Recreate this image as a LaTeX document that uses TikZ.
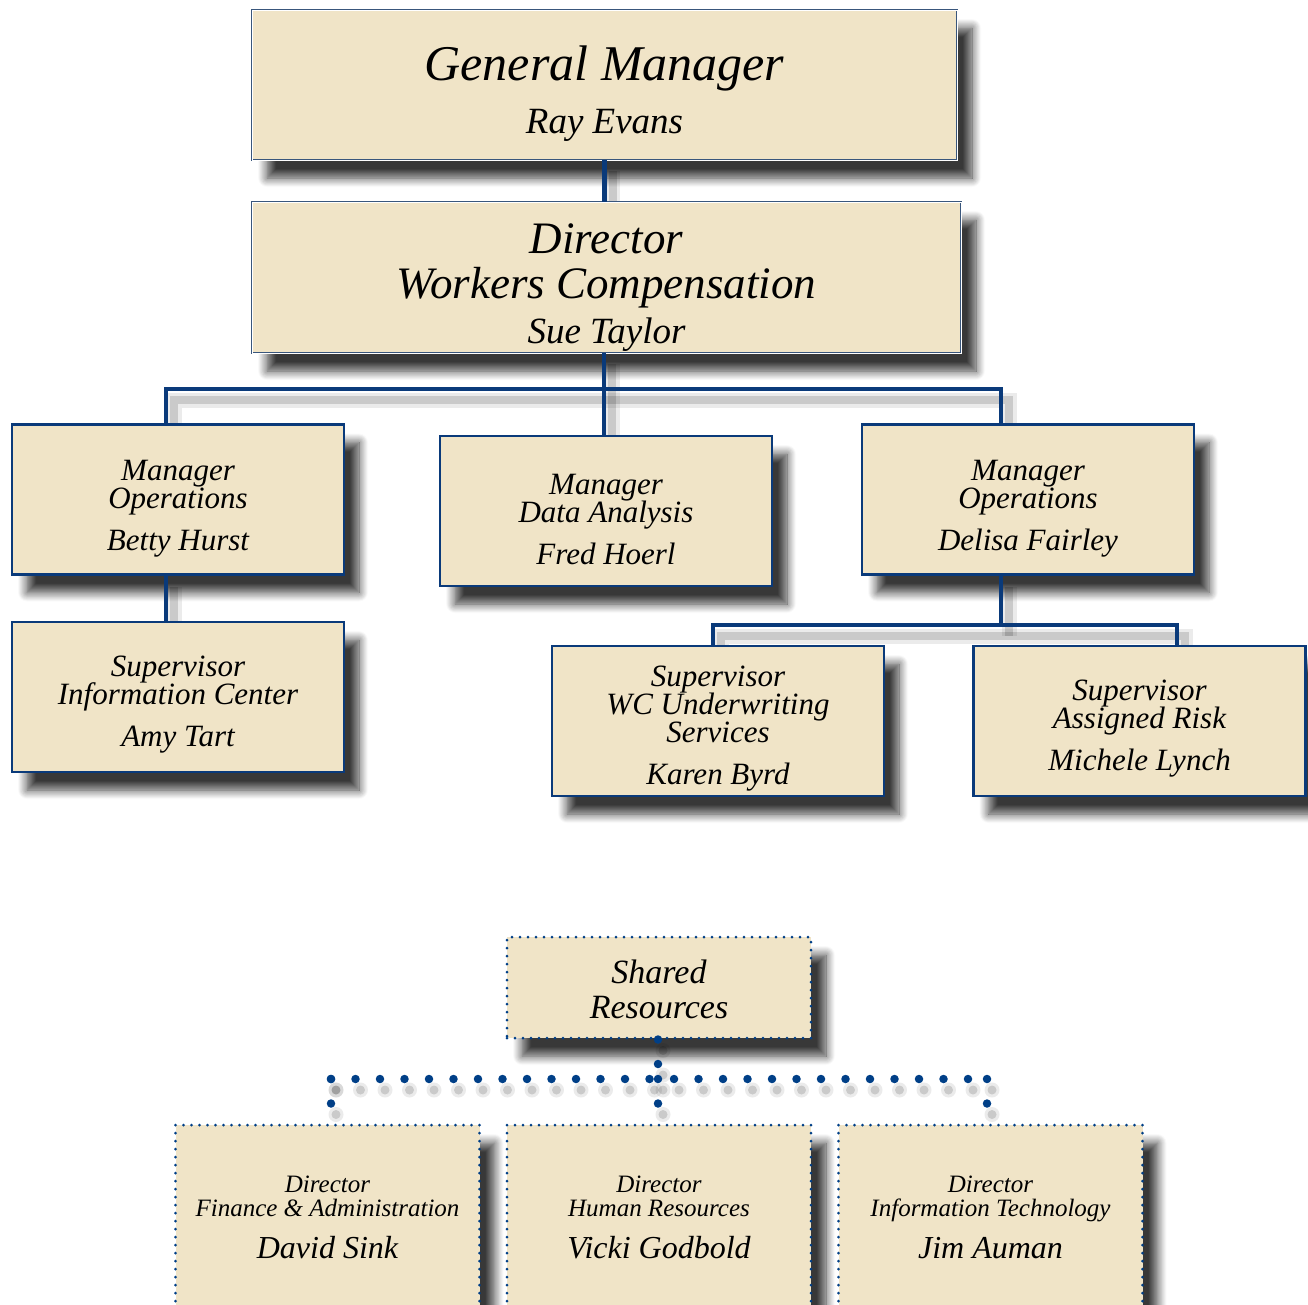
\documentclass[tikz,border=0pt]{standalone}
\usepackage{fontspec}
\setmainfont{Liberation Serif}
\usetikzlibrary{backgrounds}
\usetikzlibrary{shadows.blur}

\definecolor{boxfill}{RGB}{240,228,199}
\definecolor{linknavy}{RGB}{10,58,122}
\definecolor{dotnavy}{RGB}{0,63,135}

\newcommand\titlefont[2]{\itshape\fontsize{#1}{#2}\selectfont\lineskiplimit=-100pt}
\newcommand\lift[1]{\rule{0pt}{#1}}

% a connector: its shade goes under everything, the line over the boxes
\newcommand\link[3]{
  \begin{pgfonlayer}{background}
    \path[#2, opacity=0.08, line width=15pt] #3;
    \path[#2] #3;
  \end{pgfonlayer}
  \path[#1] #3;
}

\tikzset{
  softshadow/.style={blur shadow={shadow xshift=15pt, shadow yshift=-18pt,
      shadow blur radius=9pt, shadow blur steps=10, shadow opacity=78}},
  topbox/.style={draw=linknavy!60!gray, double=white, double distance=0.9pt,
      line width=0.7pt, fill=boxfill, softshadow, align=center, inner sep=0pt},
  unitbox/.style={draw=linknavy, line width=2.6pt, fill=boxfill, softshadow,
      minimum width=332pt, minimum height=150pt, align=center, inner sep=0pt,
      font=\titlefont{31}{28}},
  sharedbox/.style={draw=dotnavy, line width=3pt, line cap=round,
      dash pattern=on 0pt off 8pt, fill=boxfill, softshadow,
      minimum width=304pt, align=center, inner sep=0pt},
  link/.style={draw=linknavy, line width=4.5pt},
  linkshade/.style={draw=black, opacity=0.14, line width=8pt,
      transform canvas={shift={(8pt,-11pt)}}},
  dotlink/.style={draw=dotnavy, line width=8.5pt, line cap=round,
      dash pattern=on 0pt off 24.5pt},
  dotshade/.style={draw=black, opacity=0.14, line width=9pt, line cap=round,
      dash pattern=on 0pt off 24.5pt, transform canvas={shift={(5pt,-11pt)}}},
}

\begin{document}
\begin{tikzpicture}[x=1pt,y=-1pt]
  \useasboundingbox (0,0) rectangle (1308,1304);

  % top of the chart
  \node[topbox, minimum width=705pt, minimum height=150pt, font=\titlefont{50}{53}]
    (gm) at (604.5,85) {\lift{52pt}General Manager\\\fontsize{37}{53}\selectfont Ray Evans};
  \node[topbox, minimum width=709pt, minimum height=151pt, font=\titlefont{45}{45}]
    (dir) at (606.5,277.5) {\lift{50pt}Director\\Workers Compensation\\\fontsize{37}{45}\selectfont Sue Taylor};

  \node[unitbox] (opsA) at (178,499.5) {\lift{38pt}Manager\\Operations\\[14pt]Betty Hurst};
  \node[unitbox] (data) at (606,511) {\lift{38pt}Manager\\Data Analysis\\[14pt]Fred Hoerl};
  \node[unitbox] (opsB) at (1028,499.5) {\lift{38pt}Manager\\Operations\\[14pt]Delisa Fairley};

  \node[unitbox] (info) at (178,697) {\lift{36pt}Supervisor\\Information Center\\[14pt]Amy Tart};
  \node[unitbox] (wcu) at (718,721) {\lift{36pt}Supervisor\\WC Underwriting\\Services\\[14pt]Karen Byrd};
  \node[unitbox] (risk) at (1139.5,721) {\lift{36pt}Supervisor\\Assigned Risk\\[14pt]Michele Lynch};

  % shared resources
  \node[sharedbox, minimum height=101pt, font=\titlefont{34}{35}]
    (shared) at (659,987.5) {\lift{27pt}Shared\\Resources};
  \node[sharedbox, minimum height=184pt, font=\titlefont{25}{24}]
    (fin) at (327.5,1217) {Director\\Finance \& Administration\\[18pt]\fontsize{32}{24}\selectfont David Sink};
  \node[sharedbox, minimum height=184pt, font=\titlefont{25}{24}]
    (hr) at (659,1217) {Director\\Human Resources\\[18pt]\fontsize{32}{24}\selectfont Vicki Godbold};
  \node[sharedbox, minimum height=184pt, font=\titlefont{25}{24}]
    (it) at (990.5,1217) {Director\\Information Technology\\[18pt]\fontsize{32}{24}\selectfont Jim Auman};

  % bus points
  \coordinate (busL) at (166,389);
  \coordinate (busM) at (604,389);
  \coordinate (busR) at (1001,389);
  \coordinate (subL) at (713,625);
  \coordinate (subM) at (1001,625);
  \coordinate (subR) at (1177,625);
  \coordinate (sbusL) at (331,1079);
  \coordinate (sbusM) at (658,1079);
  \coordinate (sbusR) at (987,1079);

  \link{link}{linkshade}{(gm.south) -- (gm.south |- dir.north)}
  \link{link}{linkshade}{(dir.south -| busM) -- (busM |- data.north)}
  \link{link}{linkshade}{(busL |- opsA.north) -- (busL) -- (busR) -- (busR |- opsB.north)}
  \link{link}{linkshade}{(busL |- opsA.south) -- (busL |- info.north)}
  \link{link}{linkshade}{(busR |- opsB.south) -- (subM)}
  \link{link}{linkshade}{(subL |- wcu.north) -- (subL) -- (subR) -- (subR |- risk.north)}

  \link{dotlink}{dotshade}{(shared.south -| sbusM) -- (sbusM)}
  \link{dotlink}{dotshade}{(sbusL) -- (sbusR)}
  \link{dotlink}{dotshade}{(sbusL) -- (sbusL |- fin.north)}
  \link{dotlink}{dotshade}{(sbusM) -- (sbusM |- hr.north)}
  \link{dotlink}{dotshade}{(sbusR) -- (sbusR |- it.north)}

\end{tikzpicture}
\end{document}
